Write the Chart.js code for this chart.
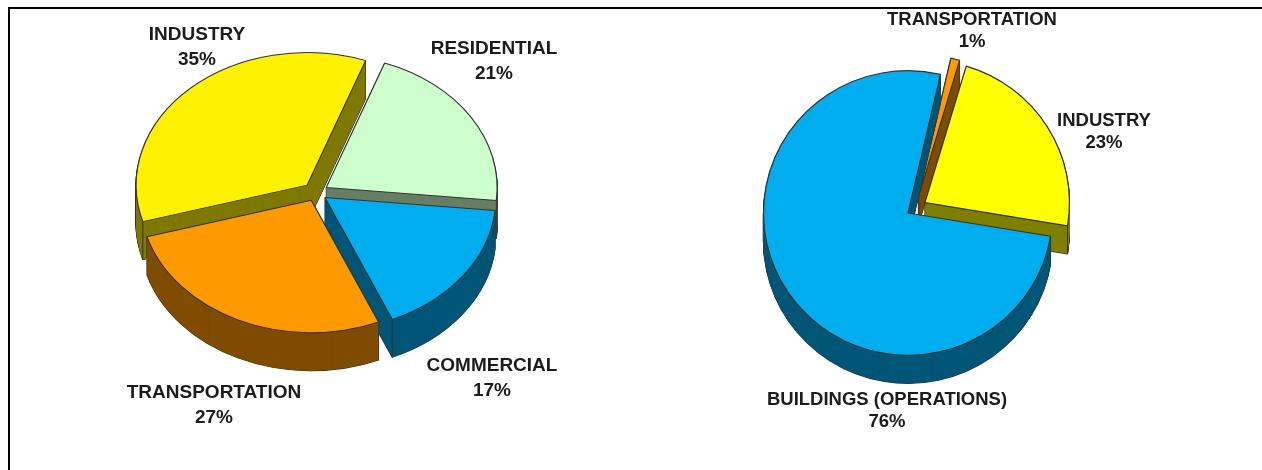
<!DOCTYPE html>
<html>
<head>
<meta charset="utf-8">
<title>Energy use by sector</title>
<script src="https://cdn.jsdelivr.net/npm/chart.js@4"></script>
<style>
  html, body { margin: 0; padding: 0; background: #fff; overflow: hidden; }
  #page { position: relative; width: 1262px; height: 470px; }
  #frame {
    position: absolute; left: 8px; top: 7px; right: 0; bottom: 0;
    border-top: 2px solid #000; border-left: 2px solid #000;
  }
  canvas { position: absolute; left: 0; top: 0; }
</style>
</head>
<body>
<div id="page">
  <div id="frame"></div>
  <canvas id="sectorsChart" width="1262" height="470"></canvas>
  <canvas id="buildingsChart" width="1262" height="470"></canvas>
</div>
<script>
// Left pie
const sectorNames = ["RESIDENTIAL", "COMMERCIAL", "TRANSPORTATION", "INDUSTRY"];
const sectorValues = [21, 17, 27, 35];
const sectorColors = ["#ccffcc", "#00adef", "#ff9900", "#fff200"];
const sectorExplode = [12, 11, 11, 13];
const sectorNudge = [0, 0, 0, 0];
const sectorPaintOrder = [0, 3, 1, 2];
const sectorLabelPos = [[494, 49], [492, 366], [214, 393], [197, 35]];

// Right pie
const useNames = ["TRANSPORTATION", "INDUSTRY", "BUILDINGS (OPERATIONS)"];
const useValues = [1, 23, 76];
const useColors = ["#ff9900", "#ffff00", "#00adef"];
const useExplode = [17, 20, 0];
const useNudge = [6, 0, 0];
const usePaintOrder = [0, 1, 2];
const useLabelPos = [[972, 20], [1104, 121], [887, 400]];

const outlineColor = "#333";

// Side walls are the face colour at half brightness
function wallColor(hex) {
  const n = parseInt(hex.slice(1), 16);
  const r = (n >> 16) >> 1;
  const g = ((n >> 8) & 255) >> 1;
  const b = (n & 255) >> 1;
  return `rgb(${r}, ${g}, ${b})`;
}

// Copy of an arc element that draws with other colours
function arcCopy(arc, fill, stroke, width) {
  const copy = Object.create(arc);
  copy.options = Object.assign({}, arc.options, {
    backgroundColor: fill,
    borderColor: stroke,
    borderWidth: width,
    offset: 0,
  });
  return copy;
}

// Squashes the pie, explodes the slices and extrudes them downwards
const tiltedPie = {
  id: "tiltedPie",
  beforeDatasetDraw(chart, args, opts) {
    const ctx = chart.ctx;
    const arcs = args.meta.data;
    const { squash, depth, explode, nudge, order } = opts;
    const cx = arcs[0].x;
    const cy = arcs[0].y;

    order.forEach((i) => {
      const arc = arcs[i];
      const color = opts.colors[i];
      const half = (arc.startAngle + arc.endAngle) / 2;
      const dx = Math.cos(half) * explode[i] + nudge[i];
      const dy = Math.sin(half) * explode[i];
      const dark = wallColor(color);

      const place = (drop) => {
        ctx.save();
        ctx.translate(cx + dx, cy + dy * squash + drop);
        ctx.scale(1, squash);
        ctx.translate(-cx, -cy);
      };

      // outline of the whole extruded slice, then the wall fill on top of it
      for (let k = depth; k >= 1; k -= 1) {
        place(k);
        arcCopy(arc, outlineColor, outlineColor, 1.2).draw(ctx);
        ctx.restore();
      }
      for (let k = depth; k >= 1; k -= 1) {
        place(k);
        arcCopy(arc, dark, dark, 0).draw(ctx);
        ctx.restore();
      }

      // visible vertical edges where a straight side meets the curved wall
      const r = arc.outerRadius;
      const s = arc.startAngle;
      const e = arc.endAngle;
      const corners = [];
      if (Math.sin(e) > 0 && Math.cos(e) > 0) corners.push(e);
      if (Math.sin(s) > 0 && Math.cos(s) < 0) corners.push(s);
      corners.forEach((a) => {
        const x = cx + dx + Math.cos(a) * r;
        const y = cy + (dy + Math.sin(a) * r) * squash;
        ctx.save();
        ctx.strokeStyle = outlineColor;
        ctx.lineWidth = 1;
        ctx.beginPath();
        ctx.moveTo(x, y);
        ctx.lineTo(x, y + depth);
        ctx.stroke();
        ctx.restore();
      });

      // top face
      place(0);
      arcCopy(arc, color, outlineColor, 1.2).draw(ctx);
      ctx.restore();
    });
    return false;
  },
  afterDraw(chart, args, opts) {
    const ctx = chart.ctx;
    ctx.save();
    ctx.font = opts.font;
    ctx.fillStyle = "#1c1c1c";
    ctx.textAlign = "center";
    ctx.textBaseline = "middle";
    const values = chart.data.datasets[0].data;
    chart.data.labels.forEach((name, i) => {
      const pos = opts.labelPos[i];
      ctx.fillText(name, pos[0], pos[1]);
      ctx.fillText(values[i] + "%", pos[0], pos[1] + opts.lineGap);
    });
    ctx.restore();
  },
};

function makePie(id, names, values, colors, rotation, radius, padding, plugin) {
  return new Chart(document.getElementById(id), {
    type: "pie",
    data: {
      labels: names,
      datasets: [{ data: values, backgroundColor: colors, borderWidth: 0 }],
    },
    plugins: [tiltedPie],
    options: {
      responsive: false,
      animation: false,
      events: [],
      rotation: rotation,
      radius: radius,
      layout: { padding: padding },
      plugins: {
        legend: { display: false },
        tooltip: { enabled: false },
        tiltedPie: Object.assign({ colors: colors }, plugin),
      },
    },
  });
}

makePie("sectorsChart", sectorNames, sectorValues, sectorColors, 20, 171,
  { right: 630, bottom: 85 },
  {
    squash: 0.775, depth: 38, explode: sectorExplode, nudge: sectorNudge,
    order: sectorPaintOrder, labelPos: sectorLabelPos, lineGap: 25,
    font: "bold 19px 'Liberation Sans', Arial, sans-serif",
  });

makePie("buildingsChart", useNames, useValues, useColors, 13, 144.5,
  { left: 554, bottom: 44 },
  {
    squash: 0.985, depth: 28, explode: useExplode, nudge: useNudge,
    order: usePaintOrder, labelPos: useLabelPos, lineGap: 22,
    font: "bold 18.5px 'Liberation Sans', Arial, sans-serif",
  });
</script>
</body>
</html>
